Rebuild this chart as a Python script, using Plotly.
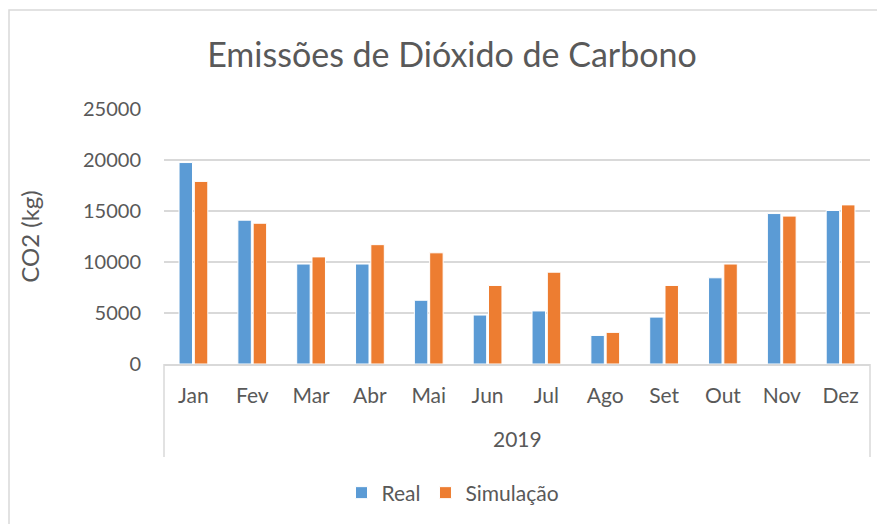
import plotly.graph_objects as go

months = ["Jan", "Fev", "Mar", "Abr", "Mai", "Jun", "Jul", "Ago", "Set", "Out", "Nov", "Dez"]
year = "2019"
real = [19750, 14100, 9800, 9800, 6250, 4800, 5200, 2800, 4600, 8450, 14750, 15050]
simulacao = [17900, 13800, 10500, 11700, 10900, 7700, 9000, 3100, 7700, 9800, 14500, 15600]

TXT = "#595959"
GRID = "#D9D9D9"
FONT = "Lato"

W, H = 885, 524
OFF = 8  # page body margin offset of the figure in the window
# target window pixel positions
PL, PR, PT, PB = 164, 870, 109, 364
L, T = PL - OFF, PT - OFF
R = W - (PR - OFF)
B = H - (PB - OFF)
PW, PH = W - L - R, H - T - B


def py(wy):  # window pixel y -> paper y
    return (PB - wy) / PH


def pxx(wx):  # window pixel x -> paper x
    return (wx - PL) / PW


fig = go.Figure()
fig.add_trace(go.Bar(x=months, y=real, name="Real",
                     marker=dict(color="#5B9BD5", line=dict(color="white", width=1))))
fig.add_trace(go.Bar(x=months, y=simulacao, name="Simulação",
                     marker=dict(color="#ED7D31", line=dict(color="white", width=1))))

fig.update_layout(
    width=W, height=H,
    margin=dict(l=L, r=R, t=T, b=B, autoexpand=False),
    paper_bgcolor="white", plot_bgcolor="white",
    font=dict(family=FONT, size=20, color=TXT),
    barmode="group", bargap=0.48, bargroupgap=0.12,
    title=dict(text="Emissões de Dióxido de Carbono", font=dict(size=34, color=TXT, family=FONT),
               x=(452 - OFF) / W, xref="container", xanchor="center",
               y=1 - (55 - OFF) / H, yanchor="middle"),
    legend=dict(orientation="h", x=pxx(453), xanchor="center", y=py(493), yanchor="middle",
                font=dict(size=21, color=TXT), itemwidth=30, tracegroupgap=0),
    showlegend=True,
)
fig.update_yaxes(range=[0, 25000], tickvals=[0, 5000, 10000, 15000, 20000, 25000],
                 tickformat="d", showgrid=True, gridcolor=GRID, gridwidth=1.5,
                 zeroline=False, showline=False, ticks="", ticklabelstandoff=22, automargin=False,
                 tickfont=dict(size=20),
                 title=dict(text="CO2 (kg)", font=dict(size=24, color=TXT), standoff=36))
fig.update_xaxes(type="category", showline=True, linecolor=GRID, linewidth=1.5,
                 showgrid=False, ticks="", ticklabelstandoff=12, automargin=False,
                 tickfont=dict(size=21))

# second category level: year label and its box sides
fig.add_annotation(text=year, xref="paper", yref="paper", x=0.5, y=py(438),
                   xanchor="center", yanchor="middle", showarrow=False,
                   font=dict(size=21, color=TXT))
for xv in (0, 1):
    fig.add_shape(type="line", xref="paper", yref="paper", x0=xv, x1=xv, y0=0, y1=py(457),
                  line=dict(color=GRID, width=1.5))

# outer chart border (left edge at the figure's left edge)
fig.add_shape(type="rect", xref="paper", yref="paper", x0=pxx(OFF + 1), x1=pxx(910), y0=py(550), y1=py(10),
              line=dict(color=GRID, width=1.5), fillcolor="rgba(0,0,0,0)", layer="below")

fig.write_html("out.html")
